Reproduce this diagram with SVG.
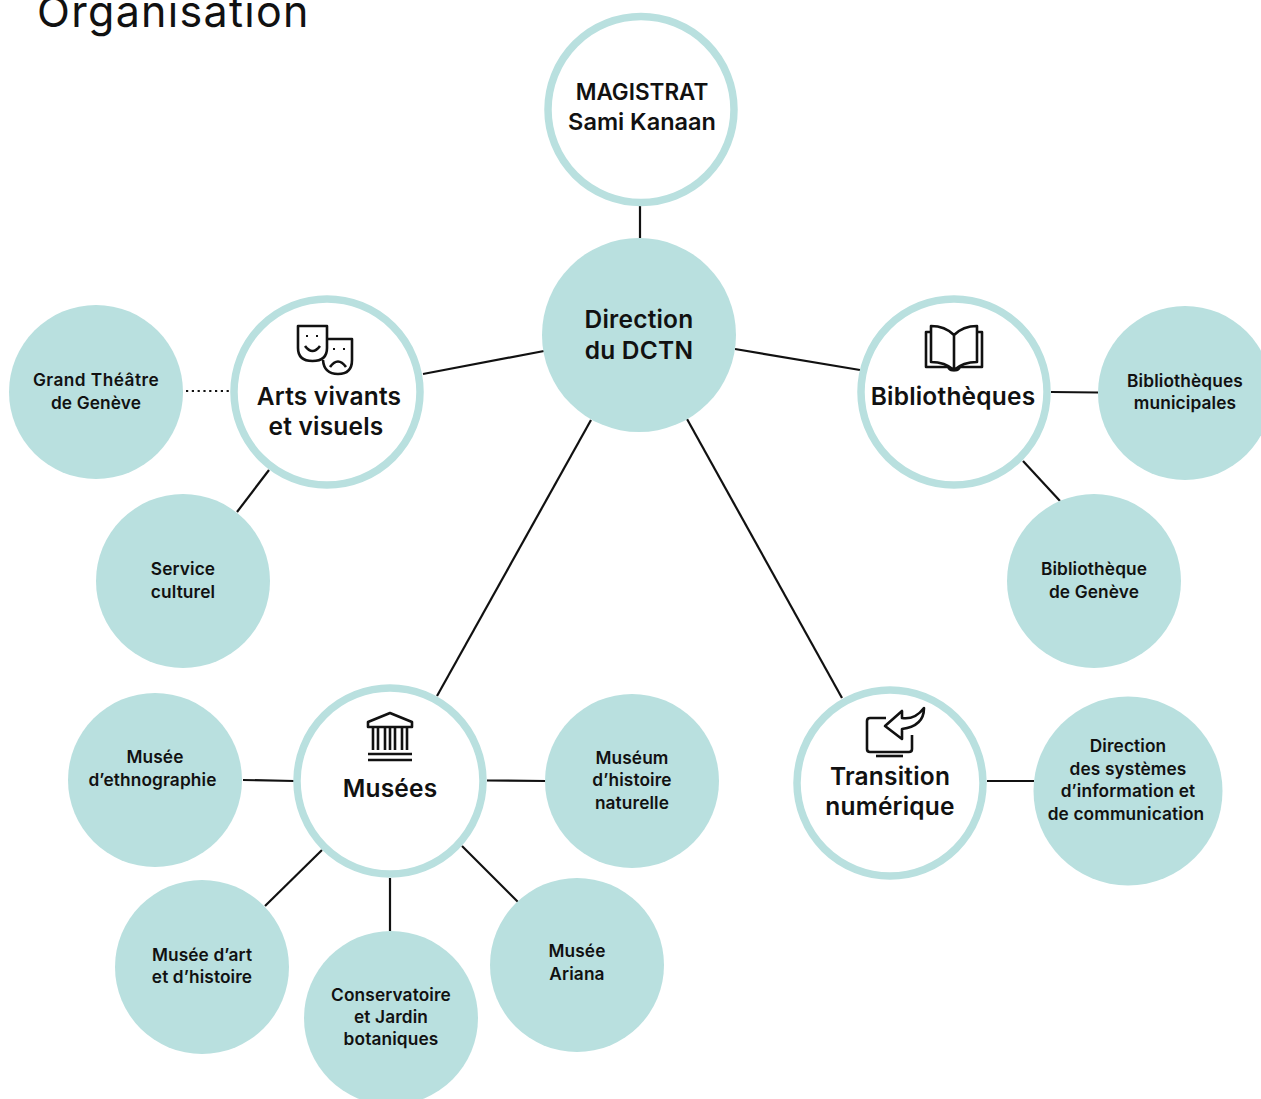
<svg xmlns="http://www.w3.org/2000/svg" width="1261" height="1099" viewBox="0 0 1261 1099">
<style>
text{font-family:"Inter","Liberation Sans",sans-serif;fill:#111;text-anchor:middle}
.fill{fill:#b9e0df}
.ring{fill:#fff;stroke:#b9e0df;stroke-width:7.5}
.big{font-size:24.5px;font-weight:600;letter-spacing:.2px}
.small{font-size:17.300px;font-weight:600;letter-spacing:.12px}
.conn line{stroke:#111;stroke-width:2.2}
.ico{fill:none;stroke:#111;stroke-width:2.6;stroke-linejoin:round}
</style>
<rect width="1261" height="1099" fill="#fff"/>
<text x="37" y="27" style="text-anchor:start;font-size:43px;font-weight:400;letter-spacing:1.300px">Organisation</text>
<g id="connectors" class="conn">
<line x1="640" y1="206" x2="640" y2="238"/>
<line x1="423" y1="374" x2="544" y2="351"/>
<line x1="735" y1="349" x2="860" y2="370"/>
<line x1="591" y1="420" x2="437" y2="696"/>
<line x1="687" y1="419" x2="842" y2="698"/>
<line x1="186" y1="391" x2="230" y2="391" stroke-dasharray="2.2 3.6"/>
<line x1="269" y1="470" x2="237" y2="512"/>
<line x1="1051" y1="392" x2="1098" y2="392.500"/>
<line x1="1023" y1="461" x2="1060" y2="501"/>
<line x1="243" y1="780" x2="294" y2="781"/>
<line x1="487" y1="780.500" x2="546" y2="781"/>
<line x1="322" y1="850" x2="265" y2="906"/>
<line x1="390" y1="878" x2="390" y2="931"/>
<line x1="462" y1="846" x2="518" y2="902"/>
<line x1="987" y1="781" x2="1034" y2="781"/>
</g>
<g id="magistrat"><circle class="ring" cx="641" cy="109.500" r="93"/><text class="big" x="642" y="100" style="font-size:22.500px;letter-spacing:0">MAGISTRAT</text><text class="big" x="642" y="130" style="font-size:23.500px;letter-spacing:0">Sami Kanaan</text></g>
<g id="direction"><circle class="fill" cx="639" cy="335" r="97"/><text class="big" x="639" y="328">Direction</text><text class="big" x="639" y="359">du DCTN</text></g>
<g id="arts"><circle class="ring" cx="327" cy="392" r="93"/>
<path class="ico" d="M298 326H327V348Q327 361 312.500 361Q298 361 298 348Z"/>
<path class="ico" d="M326 339H352V360Q352 374 338 374Q324 374 323 360"/>
<path class="ico" d="M305 346Q312.500 356 320 346M330 367Q338 356 346 367"/>
<path d="M306 335h2v2h-2zM316 335h2v2h-2zM333 348h2v2h-2zM343 348h2v2h-2z" fill="#111"/>
<text class="big" x="329" y="405">Arts vivants</text><text class="big" x="326" y="435">et visuels</text></g>
<g id="bibliotheques"><circle class="ring" cx="954" cy="392" r="93"/>
<path class="ico" d="M954 335Q945 326 931 326V362Q945 362 954 370Q963 362 977 362V326Q963 326 954 335V370"/>
<path class="ico" d="M931 332H926V367H948Q950 371 954 370Q958 371 960 367H982V332H977"/>
<text class="big" x="953" y="405">Bibliothèques</text></g>
<g id="musees"><circle class="ring" cx="390" cy="781" r="93"/>
<path class="ico" d="M368 727V722L390 713L412 722V727Z"/>
<path class="ico" d="M373 728V750M378 728V750M385 728V750M390 728V750M395 728V750M402 728V750M407 728V750" stroke-width="2"/>
<path class="ico" d="M368 754H412M368 760H412"/>
<text class="big" x="390" y="797">Musées</text></g>
<g id="transition"><circle class="ring" cx="890" cy="783" r="93"/>
<path class="ico" d="M886 718H870Q867 718 867 721V749Q867 752 870 752H909Q912 752 912 749V735"/>
<path class="ico" d="M876 756H903"/>
<path class="ico" d="M885 726L902 711V718Q915 720 924 708Q924 726 902 729V739Z"/>
<text class="big" x="890" y="785">Transition</text><text class="big" x="890" y="815">numérique</text></g>
<g id="grand-theatre"><circle class="fill" cx="96" cy="392" r="87"/><text class="small" x="96" y="386" style="letter-spacing:.45px">Grand Théâtre</text><text class="small" x="96" y="409">de Genève</text></g>
<g id="service-culturel"><circle class="fill" cx="183" cy="581" r="87"/><text class="small" x="183" y="575">Service</text><text class="small" x="183" y="598">culturel</text></g>
<g id="bibliotheques-municipales"><circle class="fill" cx="1185" cy="393" r="87"/><text class="small" x="1185" y="387">Bibliothèques</text><text class="small" x="1185" y="409">municipales</text></g>
<g id="bibliotheque-geneve"><circle class="fill" cx="1094" cy="581" r="87"/><text class="small" x="1094" y="575">Bibliothèque</text><text class="small" x="1094" y="598">de Genève</text></g>
<g id="musee-ethnographie"><circle class="fill" cx="155" cy="780" r="87"/><text class="small" x="155" y="763">Musée</text><text class="small" x="152.500" y="786">d’ethnographie</text></g>
<g id="museum"><circle class="fill" cx="632" cy="781" r="87"/><text class="small" x="632" y="764">Muséum</text><text class="small" x="632" y="786">d’histoire</text><text class="small" x="632" y="809">naturelle</text></g>
<g id="musee-art"><circle class="fill" cx="202" cy="967" r="87"/><text class="small" x="202" y="961">Musée d’art</text><text class="small" x="202" y="983">et d’histoire</text></g>
<g id="conservatoire"><circle class="fill" cx="391" cy="1018" r="87"/><text class="small" x="391" y="1001">Conservatoire</text><text class="small" x="391" y="1023">et Jardin</text><text class="small" x="391" y="1045">botaniques</text></g>
<g id="ariana"><circle class="fill" cx="577" cy="965" r="87"/><text class="small" x="577" y="957">Musée</text><text class="small" x="577" y="980">Ariana</text></g>
<g id="dsic"><circle class="fill" cx="1128" cy="791" r="94.500"/><text class="small" x="1128" y="752">Direction</text><text class="small" x="1128" y="775">des systèmes</text><text class="small" x="1128" y="797">d’information et</text><text class="small" x="1126" y="820">de communication</text></g>
</svg>
